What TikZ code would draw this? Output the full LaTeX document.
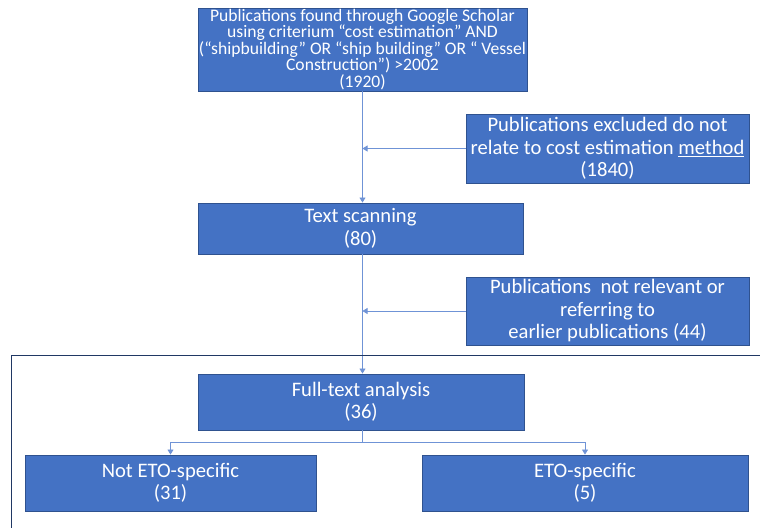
\documentclass[tikz,border=0pt]{standalone}
\usepackage{fontspec}
\setmainfont{Carlito}
\usetikzlibrary{arrows.meta}
\definecolor{boxblue}{HTML}{4472C4}
\definecolor{boxedge}{HTML}{2F528F}
\definecolor{framenavy}{HTML}{203864}
\definecolor{linkblue}{HTML}{6F93D6}

\begin{document}
\begin{tikzpicture}[x=1pt,y=-1pt,
  box/.style={draw=boxedge,fill=boxblue,text=white,align=center,inner sep=0pt,line width=0.9pt,
    font=\fontsize{20.6}{22.5}\selectfont},
  link/.style={draw=linkblue,line width=0.7pt,-{Triangle[length=5pt,width=6pt]}}]
  \useasboundingbox (0,0) rectangle (760,528);
  % boxes of the main flow
  \node[box,minimum width=329,minimum height=83,font=\fontsize{17.6}{16.5}\selectfont] (found) at (362.5,49.5)
    {Publications found through Google Scholar\\using criterium “cost estimation” AND\\(“shipbuilding” OR “ship building” OR “ Vessel\\Construction”) >2002\\(1920)};
  \node[box,minimum width=283,minimum height=69] (excl1) at (607.5,148.5)
    {Publications excluded do not\\relate to cost estimation \underline{method}\\(1840)};
  \node[box,minimum width=325,minimum height=51] (scan) at (360.5,228.5) {Text scanning\\(80)};
  \node[box,minimum width=283,minimum height=68] (excl2) at (607.5,311)
    {Publications~ not relevant or\\referring to\\earlier publications (44)};
  \node[box,minimum width=326,minimum height=56] (full) at (361,402) {Full-text analysis\\(36)};
  \node[box,minimum width=291,minimum height=56] (noteto) at (170.5,483) {Not ETO-specific\\(31)};
  \node[box,minimum width=326,minimum height=56] (eto) at (585,483) {ETO-specific\\(5)};
  % connectors
  \coordinate (j1) at (found.south |- excl1.west);
  \coordinate (j2) at (found.south |- excl2.west);
  \draw[link] (found.south) -- (found.south |- scan.north);
  \draw[link] (excl1.west) -- (j1);
  \draw[link] (found.south |- scan.south) -- (found.south |- full.north);
  \draw[link] (excl2.west) -- (j2);
  \draw[link] (found.south |- full.south) -- ++(0,12) -| (noteto.north);
  \draw[link] (found.south |- full.south) -- ++(0,12) -| (eto.north);
  % open frame round the analysis part
  \draw[framenavy,line width=0.9pt] (760,355) -- (11,355) -- (11,528);
\end{tikzpicture}
\end{document}
